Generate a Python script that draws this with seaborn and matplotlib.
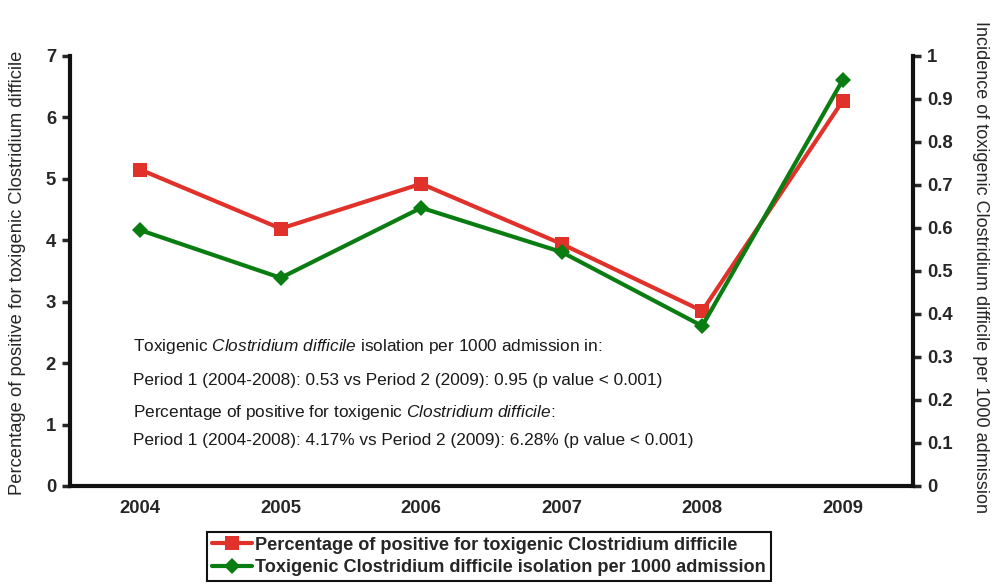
import pandas as pd
import seaborn as sns
import matplotlib.pyplot as plt

# Data
years = ["2004", "2005", "2006", "2007", "2008", "2009"]
pct_positive = [5.15, 4.19, 4.92, 3.94, 2.85, 6.27]
isolation_per_1000 = [0.595, 0.484, 0.647, 0.544, 0.372, 0.944]

red_label = "Percentage of positive for toxigenic Clostridium difficile"
green_label = "Toxigenic Clostridium difficile isolation per 1000 admission"
left_ylabel = "Percentage of positive for toxigenic Clostridium difficile"
right_ylabel = "Incidence of toxigenic Clostridium difficile per 1000 admission"

RED = "#e0322a"
GREEN = "#0a7d12"

sns.set_style("white")
plt.rcParams['font.family'] = ['Liberation Sans', 'DejaVu Sans']
plt.rcParams['mathtext.fontset'] = 'custom'
plt.rcParams['mathtext.it'] = 'Liberation Sans:italic'
plt.rcParams['mathtext.rm'] = 'Liberation Sans'

df = pd.DataFrame({"Year": years, "Pct": pct_positive, "Iso": isolation_per_1000})
df["x"] = range(len(years))

fig = plt.figure(figsize=(9.97, 5.88), dpi=100)
ax = fig.add_axes([0.0702, 0.1735, 0.8455, 0.7313])
ax2 = ax.twinx()

sns.lineplot(data=df, x="x", y="Pct", ax=ax, color=RED, linewidth=3,
             marker="s", markersize=10, markeredgewidth=0, label=red_label, legend=False)
sns.lineplot(data=df, x="x", y="Iso", ax=ax2, color=GREEN, linewidth=3,
             marker="D", markersize=8, markeredgewidth=0, label=green_label, legend=False)

ax.set_xlim(-0.5, len(years) - 0.5)
ax.set_ylim(0, 7)
ax2.set_ylim(0, 1)

# x axis: labels at centres, tick marks at the category boundaries
ax.set_xticks(df["x"])
ax.set_xticklabels(years, fontsize=13.3, fontweight="bold")
ax.tick_params(axis="x", which="major", length=0, pad=10)
ax.set_xticks([i - 0.5 for i in range(len(years) + 1)], minor=True)
ax.tick_params(axis="x", which="minor", length=6, width=2.5, direction="out", color="#111111")

ax.set_yticks(range(0, 8))
ax.tick_params(axis="y", length=6, width=2.5, direction="out", labelsize=13.3, pad=4)
for t in ax.get_yticklabels():
    t.set_fontweight("bold")

ax2.set_yticks([i / 10 for i in range(11)])
ax2.set_yticklabels(["0", "0.1", "0.2", "0.3", "0.4", "0.5", "0.6", "0.7", "0.8", "0.9", "1"])
ax2.tick_params(axis="y", length=6, width=2.5, direction="out", labelsize=13.3, pad=4)
for t in ax2.get_yticklabels():
    t.set_fontweight("bold")

for a in (ax, ax2):
    a.spines["top"].set_visible(False)
    for s in ("left", "right", "bottom"):
        a.spines[s].set_linewidth(3)
        a.spines[s].set_color("#111111")
    a.set_xlabel("")
ax.spines["right"].set_visible(False)
ax2.spines["left"].set_visible(False)
ax2.spines["bottom"].set_visible(False)

ax.set_ylabel(left_ylabel, fontsize=13.2, va="center")
ax2.set_ylabel(right_ylabel, fontsize=13.0, rotation=270, va="center")
ax.yaxis.set_label_coords(-0.0617, 0.495)
ax2.yaxis.set_label_coords(1.08, 0.51)

# annotation block
lines = [
    r"Toxigenic $\it{Clostridium\ difficile}$ isolation per 1000 admission in:",
    "Period 1 (2004-2008): 0.53 vs Period 2 (2009): 0.95 (p value < 0.001)",
    r"Percentage of positive for toxigenic $\it{Clostridium\ difficile}$:",
    "Period 1 (2004-2008): 4.17% vs Period 2 (2009): 6.28% (p value < 0.001)",
]
ys = [347, 380, 412, 441]
for txt, yp in zip(lines, ys):
    fig.text(133 / 997, 1 - yp / 588, txt, fontsize=12.4, va="center", ha="left", color="#1a1a1a")

h1, l1 = ax.get_legend_handles_labels()
h2, l2 = ax2.get_legend_handles_labels()
leg = fig.legend(h1 + h2, l1 + l2, loc="upper left", bbox_to_anchor=(207 / 997, 1 - 532 / 588),
                 frameon=True, fancybox=False, edgecolor="#111111", framealpha=1,
                 prop={"weight": "bold", "size": 13.1}, handlelength=2.2, handletextpad=0.2,
                 borderpad=0.25, labelspacing=0.3, borderaxespad=0)
leg.get_frame().set_linewidth(1.5)

fig.savefig("out.png", dpi=100)
